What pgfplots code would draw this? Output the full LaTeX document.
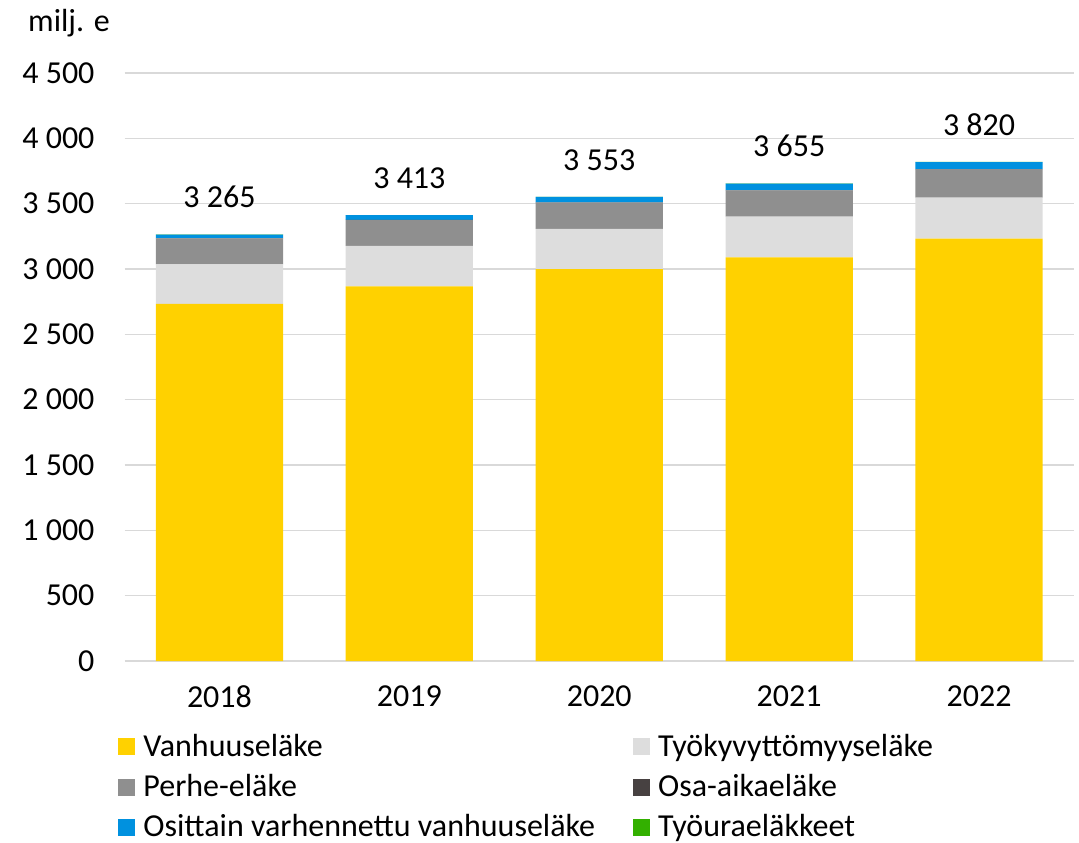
\documentclass[border=0pt]{standalone}
\usepackage{fontspec}
\setmainfont{Carlito}
\usepackage{pgfplots}
\pgfplotsset{compat=1.18}
\definecolor{cVanhuus}{HTML}{FFD100}
\definecolor{cTyokyv}{HTML}{DDDDDD}
\definecolor{cPerhe}{HTML}{8F8F8F}
\definecolor{cOsa}{HTML}{474141}
\definecolor{cOsitt}{HTML}{0091DF}
\definecolor{cTyoura}{HTML}{33B000}
\definecolor{gridc}{HTML}{D9D9D9}

\begin{document}
\begin{tikzpicture}[x=1pt,y=1pt]
  \useasboundingbox (0,0) rectangle (539.5,-421);
  \node[anchor=base, font=\fontsize{16}{19}\selectfont] at (34.5,-15.85) {milj. e};
  \begin{axis}[
    at={(62.25pt,-330.5pt)}, anchor=south west,
    scale only axis, width=474.75pt, height=294pt,
    font=\fontsize{16}{19}\selectfont,
    ybar stacked, bar width=0.67,
    xmin=-0.5, xmax=4.5, ymin=0, ymax=4500,
    xtick={0,1,2,3,4},
    xticklabels={2018,2019,2020,2021,2022},
    ytick={0,500,1000,1500,2000,2500,3000,3500,4000,4500},
    yticklabels={0,500,1 000,1 500,2 000,2 500,3 000,3 500,4 000,4 500},
    yticklabel style={xshift=-11.5pt},
    xticklabel style={yshift=-9pt},
    axis line style={draw=none},
    major tick length=0pt,
    ymajorgrids,
    grid style={line width=0.6pt, gridc},
    legend columns=2,
    legend cell align=left,
    legend style={draw=none, fill=none, inner sep=0pt,
      at={(-0.0068,-0.117)}, anchor=north west,
      row sep=3.5pt,
      /tikz/every even column/.append style={column sep=17pt}},
    legend image code/.code={\fill[#1] (0pt,-4.25pt) rectangle (8.5pt,4.25pt);
      \path (10.5pt,0pt);},
  ]
    \addplot[fill=cVanhuus, draw=none] coordinates {(0,2733) (1,2868) (2,2999) (3,3090) (4,3232)};
    \addplot[fill=cTyokyv, draw=none] coordinates {(0,303) (1,309) (2,309) (3,311) (4,314)};
    \addplot[fill=cPerhe, draw=none] coordinates {(0,199) (1,199) (2,201) (3,201) (4,218)};
    \addplot[fill=cOsa, draw=none] coordinates {(0,1) (1,1) (2,1) (3,1) (4,1)};
    \addplot[fill=cOsitt, draw=none] coordinates {(0,28) (1,35) (2,42) (3,51) (4,54)};
    \addplot[fill=cTyoura, draw=none] coordinates {(0,1) (1,1) (2,1) (3,1) (4,1)};
    \legend{Vanhuuseläke, Työkyvyttömyyseläke, Perhe-eläke, Osa-aikaeläke,
      Osittain varhennettu vanhuuseläke, Työuraeläkkeet}
    % totals above each stack
    \node[anchor=south, yshift=9.7pt] at (axis cs:0,3265) {3 265};
    \node[anchor=south, yshift=9.7pt] at (axis cs:1,3413) {3 413};
    \node[anchor=south, yshift=9.7pt] at (axis cs:2,3553) {3 553};
    \node[anchor=south, yshift=9.7pt] at (axis cs:3,3655) {3 655};
    \node[anchor=south, yshift=9.7pt] at (axis cs:4,3820) {3 820};
  \end{axis}
\end{tikzpicture}
\end{document}
